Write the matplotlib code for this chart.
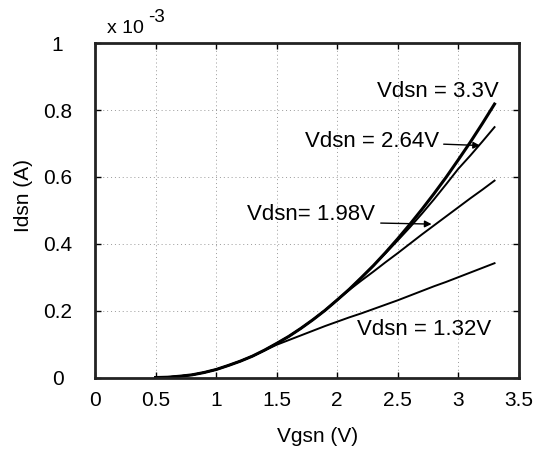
import matplotlib
matplotlib.use("Agg")
import matplotlib.pyplot as plt

# --- DATA (current in units of 1e-3 A) ----------------------------------
vgs = [0.5, 0.6, 0.7, 0.8, 0.9, 1.0, 1.1, 1.2, 1.3, 1.4, 1.5, 1.6, 1.7, 1.8,
       1.9, 2.0, 2.1, 2.2, 2.3, 2.4, 2.5, 2.6, 2.7, 2.8, 2.9, 3.0, 3.1, 3.2, 3.3]

id_330 = [0.000, 0.001, 0.004, 0.008, 0.015, 0.024, 0.036, 0.049, 0.064, 0.082,
          0.102, 0.123, 0.147, 0.173, 0.201, 0.232, 0.264, 0.299, 0.335, 0.374,
          0.415, 0.458, 0.503, 0.550, 0.599, 0.651, 0.704, 0.760, 0.818]

id_264 = [0.000, 0.001, 0.004, 0.008, 0.015, 0.024, 0.036, 0.049, 0.064, 0.082,
          0.102, 0.123, 0.147, 0.173, 0.201, 0.232, 0.264, 0.299, 0.335, 0.372,
          0.410, 0.449, 0.490, 0.533, 0.578, 0.624, 0.664, 0.706, 0.749]

id_198 = [0.000, 0.001, 0.004, 0.008, 0.015, 0.024, 0.036, 0.049, 0.064, 0.082,
          0.102, 0.123, 0.147, 0.173, 0.201, 0.232, 0.262, 0.290, 0.317, 0.345,
          0.372, 0.400, 0.428, 0.455, 0.482, 0.509, 0.536, 0.562, 0.589]

id_132 = [0.000, 0.001, 0.004, 0.008, 0.015, 0.024, 0.036, 0.049, 0.064, 0.081,
          0.098, 0.112, 0.126, 0.140, 0.154, 0.167, 0.180, 0.192, 0.205, 0.218,
          0.231, 0.245, 0.259, 0.273, 0.286, 0.300, 0.314, 0.328, 0.342]

xticks = [0, 0.5, 1, 1.5, 2, 2.5, 3, 3.5]
yticks = [0, 0.2, 0.4, 0.6, 0.8, 1]
# -----------------------------------------------------------------------

plt.rcParams["font.family"] = ["Liberation Sans", "DejaVu Sans"]
FS = 15

fig = plt.figure(figsize=(5.37, 4.5), dpi=100)
ax = fig.add_axes([0.177, 0.161, 0.789, 0.743])

ax.plot(vgs, id_132, color="black", lw=1.4)
ax.plot(vgs, id_198, color="black", lw=1.4)
ax.plot(vgs, id_264, color="black", lw=1.4)
ax.plot(vgs, id_330, color="black", lw=2.2)

ax.set_xlim(0, 3.5)
ax.set_ylim(0, 1)
ax.set_xticks(xticks)
ax.set_yticks(yticks)
ax.set_xticklabels([f"{t:g}" for t in xticks])
ax.set_yticklabels([f"{t:g}" for t in yticks], ha="center")

ax.grid(True, linestyle=(0, (1, 3)), color="#999999", lw=0.7)
ax.tick_params(direction="in", length=4, width=1, labelsize=FS,
               top=True, right=True)
ax.tick_params(axis="x", pad=10)
ax.tick_params(axis="y", pad=27)
for s in ax.spines.values():
    s.set_linewidth(2.0)
    s.set_color("#222222")

ax.set_xlabel("Vgsn (V)", fontsize=FS, va="center")
ax.xaxis.set_label_coords(0.524, -0.177)
ax.set_ylabel("Idsn (A)", fontsize=FS, va="center")
ax.yaxis.set_label_coords(-0.168, 0.543)

# exponent marker at top left, MATLAB style
ax.text(0.0276, 1.030, "x 10", transform=ax.transAxes, fontsize=14,
        ha="left", va="baseline")
ax.text(0.125, 1.062, "-3", transform=ax.transAxes, fontsize=13.5,
        ha="left", va="baseline")

# curve labels
LFS = 16
ax.text(2.83, 0.855, "Vdsn = 3.3V", fontsize=LFS, ha="center", va="center")
ax.text(2.29, 0.706, "Vdsn = 2.64V", fontsize=LFS, ha="center", va="center")
ax.text(1.78, 0.487, "Vdsn= 1.98V", fontsize=LFS, ha="center", va="center")
ax.text(2.72, 0.145, "Vdsn = 1.32V", fontsize=LFS, ha="center", va="center")

arrow = dict(arrowstyle="-|>", color="black", lw=1.0, mutation_scale=10,
             shrinkA=0, shrinkB=0)
ax.annotate("", xy=(3.18, 0.694), xytext=(2.88, 0.698), arrowprops=arrow)
ax.annotate("", xy=(2.78, 0.459), xytext=(2.36, 0.462), arrowprops=arrow)

fig.savefig("out.png", dpi=100)
